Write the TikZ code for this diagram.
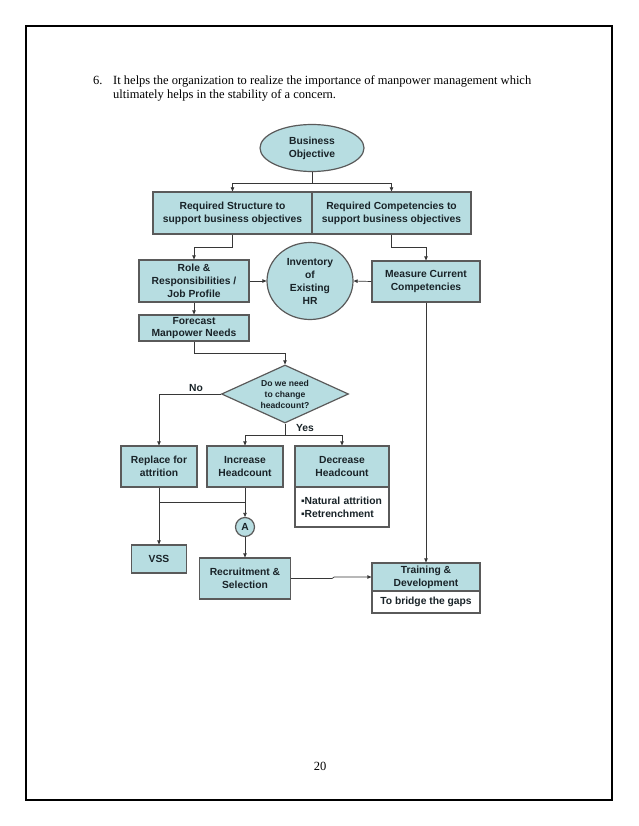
\documentclass[tikz,border=0pt]{standalone}
\usepackage{fontspec}
\setmainfont{Liberation Serif}
\newfontfamily\arialf{Liberation Sans}
\usetikzlibrary{shapes.geometric,arrows.meta,calc}
\definecolor{boxc}{RGB}{183,221,225}
\definecolor{edgec}{RGB}{90,90,90}
\definecolor{linec}{RGB}{55,55,55}
\definecolor{txtc}{RGB}{25,35,40}
\begin{document}
\begin{tikzpicture}[x=1pt,y=-1pt,
  dfont/.style={font=\arialf\bfseries\fontsize{10.3}{13}\selectfont, text=txtc},
  fbox/.style={dfont, draw=edgec, fill=boxc, line width=1.2pt, inner sep=1pt, align=center, anchor=center},
  wbox/.style={dfont, draw=edgec, fill=white, line width=1.2pt, inner sep=1pt, align=center, anchor=center},
  conn/.style={draw=linec, line width=0.7pt},
  arr/.style={conn, -{Triangle[length=4pt,width=3.5pt]}},
  lbl/.style={dfont},
  ptext/.style={anchor=base west, inner sep=0, font=\fontsize{12.5}{14}\selectfont}
]
\useasboundingbox (0,0) rectangle (638,826);
\draw[line width=2pt] (26,26) rectangle (612,800);

% page text
\node[ptext] (num) at (93,85) {6.};
\node[ptext] (para1) at (113,85) {It helps the organization to realize the importance of manpower management which};
\node[ptext] (para2) at (113,99) {ultimately helps in the stability of a concern.};
\node[inner sep=0, font=\fontsize{12.5}{14}\selectfont] (pg) at (320,766) {20};

% nodes
\node[fbox, ellipse, minimum width=104pt, minimum height=47pt, inner sep=0] (bo) at (312,148) {Business\\Objective};
\node[fbox, minimum width=159pt, minimum height=42pt] (rs) at (232.5,213) {Required Structure to\\support business objectives};
\node[fbox, minimum width=159pt, minimum height=42pt] (rc) at (391.5,213) {Required Competencies to\\support business objectives};
\node[fbox, minimum width=110pt, minimum height=42pt] (role) at (194,281) {Role \&\\Responsibilities /\\Job Profile};
\node[fbox, ellipse, minimum width=86pt, minimum height=77pt, inner sep=0] (inv) at (310,281) {Inventory\\of\\Existing\\HR};
\node[fbox, minimum width=108pt, minimum height=41pt] (mc) at (426,281.5) {Measure Current\\Competencies};
\node[fbox, minimum width=110pt, minimum height=26pt, inner sep=0,
  font=\arialf\bfseries\fontsize{10.3}{12}\selectfont] (fc) at (194,328) {Forecast\\Manpower Needs};
\node[fbox, diamond, minimum width=127pt, minimum height=58pt, inner sep=0, aspect=2.2,
  font=\arialf\bfseries\fontsize{8.6}{11}\selectfont] (dia) at (285,394) {Do we need\\to change\\headcount?};
\node[fbox, minimum width=76pt, minimum height=41pt] (rep) at (159,466.5) {Replace for\\attrition};
\node[fbox, minimum width=76pt, minimum height=41pt] (inc) at (245,466.5) {Increase\\Headcount};
\node[fbox, minimum width=94pt, minimum height=41pt] (dec) at (342,466.5) {Decrease\\Headcount};
\node[wbox, minimum width=94pt, minimum height=40pt, align=left, text width=82pt] (decb) at (342,507)
  {▪Natural attrition\\▪Retrenchment};
\node[fbox, circle, minimum size=19pt, inner sep=0] (A) at (245,527) {A};
\node[fbox, minimum width=55pt, minimum height=28pt] (vss) at (159,559) {VSS};
\node[fbox, minimum width=91pt, minimum height=41pt] (rec) at (245,578.5) {Recruitment \&\\Selection};
\node[fbox, minimum width=108pt, minimum height=28pt, inner sep=0] (tr) at (426,577) {Training \&\\Development};
\node[wbox, minimum width=108pt, minimum height=22pt] (trb) at (426,602) {To bridge the gaps};

% labels
\node[lbl] (no) at (196,388) {No};
\node[lbl] (yes) at (305,428) {Yes};

% connectors
\draw[conn] (bo.south) -- ++(0,11) coordinate (j1);
\draw[arr] (j1) -| (rs.north);
\draw[arr] (j1) -| (rc.north);
\draw[arr] (rs.south) -- ++(0,13) -| (role.north);
\draw[arr] (rc.south) -- ++(0,13) -| (mc.north);
\draw[arr] (role.east) -- (inv.west);
\draw[arr] (mc.west) -- (inv.east);
\draw[arr] (role.south) -- (fc.north);
\draw[arr] (fc.south) -- ++(0,12) -| (dia.north);
\draw[arr] (dia.west) -| (rep.north);
\draw[conn] (dia.south) -- ++(0,12) coordinate (j2);
\draw[arr] (j2) -| (inc.north);
\draw[arr] (j2) -| (dec.north);
\draw[arr] (rep.south) -- (vss.north);
\draw[conn] (rep.south) ++(0,15) coordinate (j3) -- (j3 -| inc.south);
\draw[arr] (inc.south) -- (A.north);
\draw[arr] (A.south) -- (rec.north);
\draw[arr] (rec.east) -- ++(41,0) -- ++(2,-1.5) -- (tr.west);
\draw[arr] (mc.south) -- (tr.north);
\end{tikzpicture}
\end{document}
